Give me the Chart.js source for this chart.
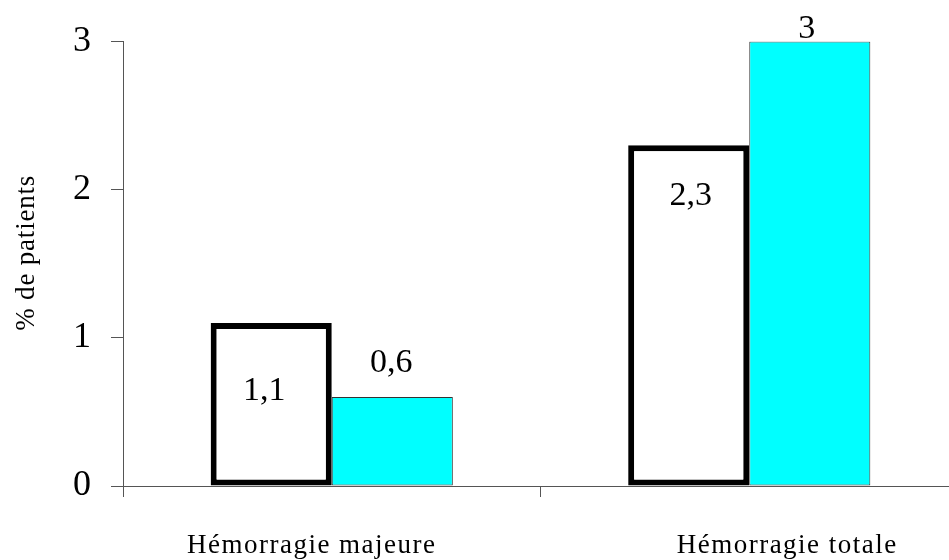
<!DOCTYPE html>
<html>
<head>
<meta charset="utf-8">
<script src="https://cdn.jsdelivr.net/npm/chart.js@4/dist/chart.umd.min.js"></script>
<style>
  html, body { margin: 0; padding: 0; background: #fff; overflow: hidden; }
  canvas { display: block; }
</style>
</head>
<body>
<canvas id="c" width="960" height="560"></canvas>
<script>
// Catégories et valeurs (% de patients)
const categories = ['Hémorragie majeure', 'Hémorragie totale'];
const serieA = [1.1, 2.3];
const serieB = [0.6, 3];
const yTicks = [0, 1, 2, 3];
const yTitle = '% de patients';

const SERIF = '"Liberation Serif", "Times New Roman", serif';

// Valeurs écrites sur les barres (format français)
const fmt = v => String(v).replace('.', ',');

// Décalages des étiquettes de valeur par rapport au sommet de chaque barre
const valueLabelOffsets = [
  [{ dx: -7, dy: 77 }, { dx: 2, dy: 60 }],
  [{ dx: -1, dy: -25 }, { dx: -3, dy: -4 }]
];
// Décalages horizontaux des libellés de catégorie
const categoryLabelOffsets = [-20, 38];

const labelsPlugin = {
  id: 'labels',
  afterDatasetsDraw(chart) {
    const ctx = chart.ctx;
    ctx.save();
    ctx.fillStyle = '#000';
    ctx.textAlign = 'center';
    ctx.textBaseline = 'alphabetic';
    ctx.font = '34px ' + SERIF;
    chart.data.datasets.forEach((ds, i) => {
      const meta = chart.getDatasetMeta(i);
      meta.data.forEach((bar, j) => {
        const off = valueLabelOffsets[i][j];
        ctx.fillText(fmt(ds.data[j]), bar.x + off.dx, bar.y + off.dy);
      });
    });
    ctx.restore();
  },
  afterDraw(chart) {
    const ctx = chart.ctx;
    const xs = chart.scales.x;
    const area = chart.chartArea;
    ctx.save();
    ctx.fillStyle = '#000';
    ctx.font = '27px ' + SERIF;
    ctx.letterSpacing = '1.5px';
    ctx.textAlign = 'center';
    ctx.textBaseline = 'alphabetic';
    categories.forEach((c, i) => {
      ctx.fillText(c, xs.getPixelForValue(i) + categoryLabelOffsets[i], 553);
    });
    // Titre de l'axe vertical
    ctx.font = '27px ' + SERIF;
    ctx.letterSpacing = '0.8px';
    ctx.translate(27, (area.top + area.bottom) / 2 - 11);
    ctx.rotate(-Math.PI / 2);
    ctx.textBaseline = 'middle';
    ctx.fillText(yTitle, 0, 0);
    ctx.restore();
  }
};

new Chart(document.getElementById('c'), {
  type: 'bar',
  data: {
    labels: categories,
    datasets: [
      {
        data: serieA,
        backgroundColor: '#ffffff',
        borderColor: '#000000',
        borderWidth: 6,
        borderSkipped: false,
        order: 0
      },
      {
        data: serieB,
        backgroundColor: '#00ffff',
        borderColor: '#333333',
        borderWidth: 1,
        borderSkipped: false,
        order: 1
      }
    ]
  },
  options: {
    responsive: false,
    animation: false,
    events: [],
    categoryPercentage: 0.58,
    barPercentage: 1,
    layout: { padding: { left: 53, right: 2, top: 41, bottom: 63 } },
    plugins: {
      legend: { display: false },
      tooltip: { enabled: false },
      title: { display: false }
    },
    scales: {
      x: {
        grid: { display: true, offset: true, drawOnChartArea: false, tickLength: 11, color: '#555' },
        border: { display: true, color: '#555', width: 1 },
        ticks: { display: false }
      },
      y: {
        min: 0,
        max: 3,
        afterBuildTicks(scale) { scale.ticks = yTicks.map(v => ({ value: v })); },
        grid: { display: true, drawOnChartArea: false, tickLength: 12, color: '#555' },
        border: { display: true, color: '#555', width: 1 },
        ticks: {
          color: '#000',
          padding: 20,
          font: { family: SERIF, size: 36 }
        }
      }
    }
  },
  plugins: [labelsPlugin]
});
</script>
</body>
</html>
